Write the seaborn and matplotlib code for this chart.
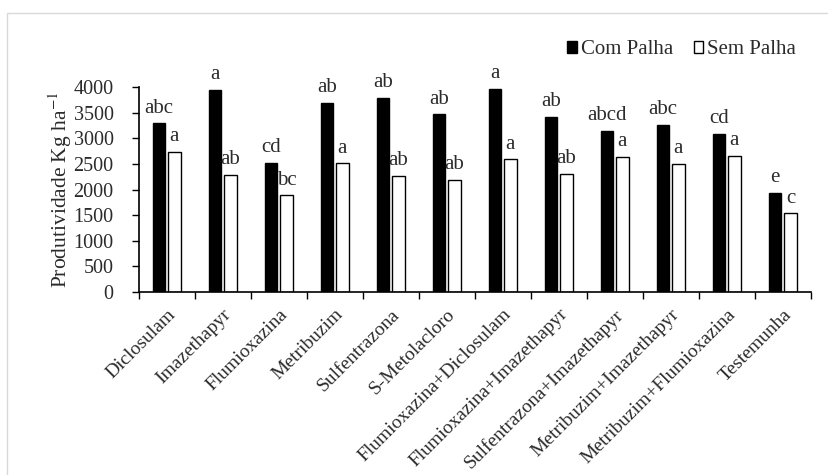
import matplotlib
matplotlib.use("Agg")
import matplotlib.pyplot as plt
import matplotlib.transforms as mtransforms
import numpy as np
import pandas as pd
import seaborn as sns
from matplotlib.patches import Rectangle

treatments = [
    "Diclosulam",
    "Imazethapyr",
    "Flumioxazina",
    "Metribuzim",
    "Sulfentrazona",
    "S-Metolacloro",
    "Flumioxazina+Diclosulam",
    "Flumioxazina+Imazethapyr",
    "Sulfentrazona+Imazethapyr",
    "Metribuzim+Imazethapyr",
    "Metribuzim+Flumioxazina",
    "Testemunha",
]
com_palha = [3295, 3950, 2520, 3700, 3800, 3470, 3970, 3420, 3150, 3270, 3095, 1940]
sem_palha = [2740, 2295, 1890, 2515, 2270, 2190, 2590, 2310, 2640, 2510, 2660, 1540]
com_letters = ["abc", "a", "cd", "ab", "ab", "ab", "a", "ab", "abcd", "abc", "cd", "e"]
sem_letters = ["a", "ab", "bc", "a", "ab", "ab", "a", "ab", "a", "a", "a", "c"]
groups = ["Com Palha", "Sem Palha"]
yticks = [0, 500, 1000, 1500, 2000, 2500, 3000, 3500, 4000]

sns.set_theme(style="white")
plt.rcParams["font.family"] = ["Liberation Serif", "DejaVu Serif"]
plt.rcParams["mathtext.fontset"] = "stix"
text_color = "#2b2b2b"
fs = 15

df = pd.DataFrame({
    "tratamento": treatments * 2,
    "produtividade": com_palha + sem_palha,
    "palha": [groups[0]] * len(treatments) + [groups[1]] * len(treatments),
})

fig = plt.figure(figsize=(8.29, 4.75), dpi=100)
ax = fig.add_axes([138.7 / 829, 1 - 292 / 475, 672 / 829, (292 - 87.3) / 475])

sns.barplot(
    data=df, x="tratamento", y="produtividade", hue="palha",
    palette={groups[0]: "black", groups[1]: "white"},
    edgecolor="black", linewidth=1.0, width=0.55, gap=0.2,
    ax=ax,
)

for container, letters in zip(ax.containers, [com_letters, sem_letters]):
    ax.bar_label(container, labels=letters, padding=4, fontsize=fs, color=text_color)

ax.set_xlim(-0.5, len(treatments) - 0.5)
ax.set_ylim(0, 4000)
ax.set_yticks(yticks)
ax.set_yticklabels([str(v) for v in yticks], fontsize=14.5, color=text_color)
ax.set_xticks(np.arange(len(treatments)))
ax.set_xticklabels(treatments, fontsize=14, color=text_color, rotation=45,
                   ha="right", va="top", rotation_mode="anchor")
shift = mtransforms.ScaledTranslation(-3 / 72, 0, fig.dpi_scale_trans)
for label in ax.get_xticklabels():
    label.set_transform(label.get_transform() + shift)
ax.set_xticks(np.arange(-0.5, len(treatments), 1), minor=True)
ax.tick_params(axis="x", which="major", length=0, pad=10)
ax.tick_params(axis="x", which="minor", length=5, width=1, color="black", direction="out", bottom=True)
ax.tick_params(axis="y", length=5, width=1, color="black", direction="out", left=True, pad=13)

ax.set_xlabel("")
ax.set_ylabel("Produtividade Kg ha$^{-1}$", fontsize=15.5, color=text_color)
ax.yaxis.set_label_coords(-0.097, 0.5)

sns.despine(ax=ax)
for side in ["left", "bottom"]:
    ax.spines[side].set_color("black")
    ax.spines[side].set_linewidth(1.2)

handles, labels = ax.get_legend_handles_labels()
ax.legend(
    handles, labels, loc="center right", bbox_to_anchor=(815 / 829, 1 - 50 / 475),
    bbox_transform=fig.transFigure, ncol=2, frameon=False, fontsize=fs,
    handlelength=0.45, handleheight=0.45, handletextpad=0.2, columnspacing=1.0,
    labelcolor=text_color,
)

fig.add_artist(Rectangle((7 / 829, -0.1), 1.2, 1.1 - 13 / 475, transform=fig.transFigure,
                         fill=False, edgecolor="#d9d9d9", linewidth=1.0))

fig.savefig("out.png", dpi=100, facecolor="white")
